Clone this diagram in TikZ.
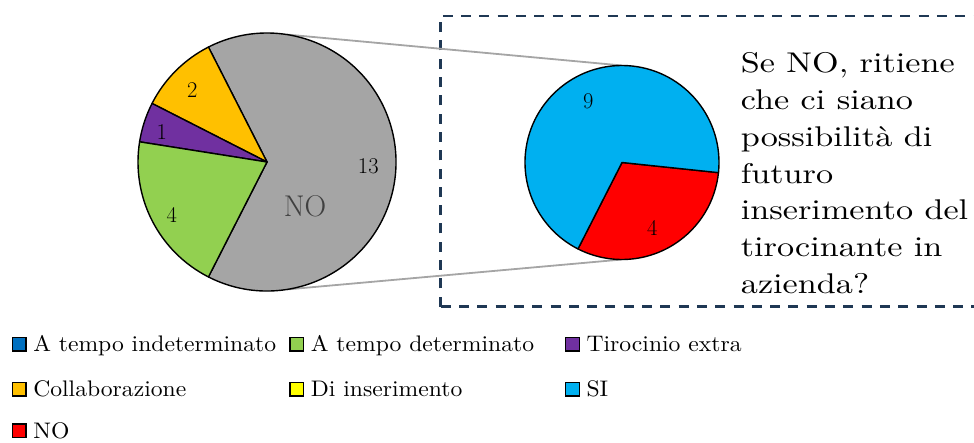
\documentclass[tikz,border=0pt]{standalone}
\usepackage{fontspec}
\newfontfamily\qfont{lmroman10-regular.otf}[FakeStretch=1.2]
\newfontfamily\legfont{lmroman10-regular.otf}[FakeStretch=1.05]
\usetikzlibrary{positioning}
\definecolor{indet}{HTML}{0070C0}
\definecolor{deter}{HTML}{92D050}
\definecolor{tiro}{HTML}{7030A0}
\definecolor{collab}{HTML}{FFC000}
\definecolor{inser}{HTML}{FFFF00}
\definecolor{sicol}{HTML}{00B0F0}
\definecolor{nocol}{HTML}{FF0000}
\definecolor{nogray}{HTML}{A5A5A5}
\definecolor{boxblue}{HTML}{1F3854}

\begin{document}
\begin{tikzpicture}[x=1pt,y=1pt,
   slice/.style={draw=black,line width=1.4pt,line join=round},
   num/.style={font=\fontsize{22.5}{26}\selectfont},
   zoomline/.style={draw=nogray,line width=1.8pt},
   legbox/.style={draw=black,line width=1.3pt,minimum size=13.5pt,inner sep=0pt,anchor=south west},
   legtxt/.style={font=\legfont\fontsize{22.5}{26}\selectfont,inner sep=0pt,anchor=base west}]
   \useasboundingbox (0,0) rectangle (974,442);
   \clip (0,0) rectangle (974,442);
   % dashed frame, running out on the right
   \draw[boxblue,line width=2.7pt,dash pattern=on 10pt off 8.3pt]
      (440.7,135.3) -- (440.7,426) -- (990,426) (440.7,135.3) -- (990,135.3);
   \coordinate (L) at (267,280);
   \coordinate (R) at (622,279.5);
   \path (L) +(81:129) coordinate (Lt) +(-81:129) coordinate (Lb);
   \path (R) +(90:97) coordinate (Rt) +(-90:97) coordinate (Rb);
   \draw[zoomline] (Lt) -- (Rt) (Lb) -- (Rb);
   % main pie
   \foreach \a/\b/\c in {-117/117/nogray,117/153/collab,153/171/tiro,171/243/deter}
      \filldraw[slice,fill=\c] (L) -- ++(\a:129) arc (\a:\b:129) -- cycle;
   % second pie
   \foreach \a/\b/\c in {243/354/nocol,-6/243/sicol}
      \filldraw[slice,fill=\c] (R) -- ++(\a:97) arc (\a:\b:97) -- cycle;
   \node[num] (n2) at (192.3,352) {2};
   \node[num] (n1) at (161.7,310.3) {1};
   \node[num] (n4) at (171.7,227) {4};
   \node[num] (n13) at (368.3,275.3) {13};
   \node[font=\fontsize{30}{34}\selectfont,text=black!75] (nolab) at (305,235.3) {NO};
   \node[num] (n9) at (588.3,340.3) {9};
   \node[num] (m4) at (652.3,213.7) {4};
   \node[anchor=north west,align=left,inner sep=0pt,font=\qfont\fontsize{28.5}{36.7}\selectfont]
      (quest) at (740.7,389.3) {Se NO, ritiene\\che ci siano\\possibilità di\\futuro\\inserimento del\\tirocinante in\\azienda?};
   % legend
   \foreach \c/\t/\x/\y [count=\i] in {indet/A tempo indeterminato/11.7/90.3,
         deter/A tempo determinato/289.3/90.3, tiro/Tirocinio extra/565/90.3,
         collab/Collaborazione/11.7/45.3, inser/Di inserimento/289.3/45.3,
         sicol/SI/565/45.3, nocol/NO/11.7/4}{
      \node[legbox,fill=\c] (k\i) at (\x,\y) {};
      \node[legtxt] (t\i) at ([xshift=6.6pt]k\i.south east) {\t};
   }
\end{tikzpicture}
\end{document}
